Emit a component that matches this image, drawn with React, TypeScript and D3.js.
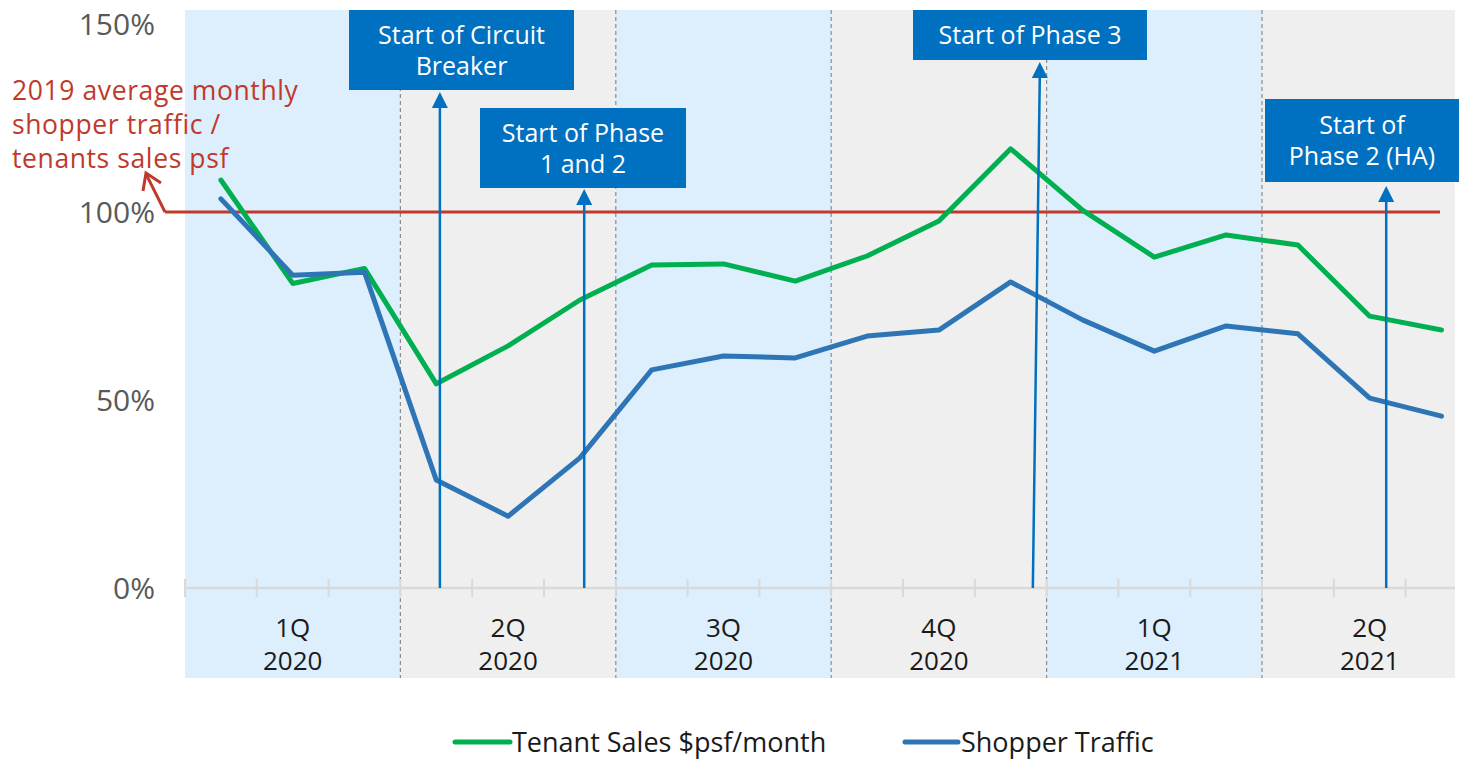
import React from "react";
import * as d3 from "d3";

// months Jan 2020 .. Jun 2021
const months = [
  "Jan-20", "Feb-20", "Mar-20", "Apr-20", "May-20", "Jun-20",
  "Jul-20", "Aug-20", "Sep-20", "Oct-20", "Nov-20", "Dec-20",
  "Jan-21", "Feb-21", "Mar-21", "Apr-21", "May-21", "Jun-21",
];
const quarters = ["1Q", "2Q", "3Q", "4Q", "1Q", "2Q"];
const quarterYears = ["2020", "2020", "2020", "2020", "2021", "2021"];

// values as % of 2019 average monthly level
const tenantSales = [108.5, 81, 85, 54.3, 64.4, 76.6, 85.9, 86.2, 81.6, 88.3, 97.6, 116.8, 100.5, 88, 93.9, 91.2, 72.3, 68.6];
const shopperTraffic = [103.5, 83.2, 84, 28.7, 19.1, 34.6, 58, 61.7, 61.2, 67, 68.6, 81.4, 71.3, 63, 69.7, 67.6, 50.5, 45.7];

const yTicks = [0, 50, 100, 150];
const baseline = 100;

// events: position in months from Jan 2020 start
const eventNames = ["Start of Circuit|Breaker", "Start of Phase|1 and 2", "Start of Phase 3", "Start of|Phase 2 (HA)"];
const eventMonths = [3.55, 5.56, 11.85, 16.73];

const W = 1459;
const H = 760;
const plotLeft = 185;
const plotRight = 1455;
const bgTop = 10;
const bgBottom = 678;
const monthW = 71.8;

const GREEN = "#00b050";
const BLUE = "#2e75b6";
const BOXBLUE = "#0070c0";
const RED = "#c0392b";
const FONT = "'Open Sans', sans-serif";

// box layout per event (x, y, w, h)
const boxes = [
  { x: 349, y: 10, w: 225, h: 80, arrowTop: 92 },
  { x: 480, y: 108, w: 206, h: 80, arrowTop: 189 },
  { x: 913, y: 10, w: 234, h: 50, arrowTop: 62 },
  { x: 1265, y: 99, w: 194, h: 83, arrowTop: 186 },
];

export default function App() {
  const x = d3.scaleLinear().domain([0, 18]).range([plotLeft, plotLeft + 18 * monthW]);
  const y = d3.scaleLinear().domain([0, 150]).range([588, 24]);

  const line = d3
    .line<number>()
    .x((_, i) => x(i + 0.5))
    .y((d) => y(d));

  const qBounds = quarters.map((_, i) => [x(i * 3), Math.min(x(i * 3 + 3), plotRight)]);

  return (
    <svg width={W} height={H} style={{ display: "block", position: "absolute", left: 0, top: 0 }}>
      {/* quarter shading */}
      {qBounds.map(([a, b], i) => (
        <rect key={"bg" + i} x={a} y={bgTop} width={b - a} height={bgBottom - bgTop} fill={i % 2 === 0 ? "#ddeefc" : "#efefef"} />
      ))}
      {qBounds.slice(1).map(([a], i) => (
        <line key={"qd" + i} x1={a} x2={a} y1={bgTop} y2={bgBottom} stroke="#8c8c8c" strokeWidth={1.2} strokeDasharray="4,3" />
      ))}

      {/* x axis */}
      <line x1={plotLeft} x2={plotRight} y1={y(0)} y2={y(0)} stroke="#d9d9d9" strokeWidth={2.5} />
      {d3.range(0, 18).map((i) => (
        <line key={"t" + i} x1={x(i)} x2={x(i)} y1={y(0) - 9} y2={y(0) + 9} stroke="#d9d9d9" strokeWidth={2} />
      ))}

      {/* y labels */}
      {yTicks.map((t) => (
        <text key={"y" + t} x={155} y={y(t)} dy="0.36em" textAnchor="end" fontFamily={FONT} fontSize={30} fill="#595959">
          {t}%
        </text>
      ))}

      {/* quarter labels */}
      {qBounds.map(([a], i) => {
        const cx = x(i * 3 + 1.5);
        return (
          <text key={"ql" + i} x={cx} textAnchor="middle" fontFamily={FONT} fontSize={26} fill="#1a1a1a">
            <tspan x={cx} y={637}>{quarters[i]}</tspan>
            <tspan x={cx} y={670}>{quarterYears[i]}</tspan>
          </text>
        );
      })}

      {/* baseline 100% */}
      <line x1={165} x2={1440} y1={y(baseline)} y2={y(baseline)} stroke={RED} strokeWidth={3} />
      <path d={`M165,${y(baseline)} L146,174`} stroke={RED} strokeWidth={3} fill="none" />
      <path d="M143,191 L146,173 L161,183" stroke={RED} strokeWidth={3} fill="none" />
      <text fontFamily={FONT} fontSize={26.5} letterSpacing={0.6} fill={RED}>
        <tspan x={12} y={100}>2019 average monthly</tspan>
        <tspan x={12} y={134}>shopper traffic /</tspan>
        <tspan x={12} y={168}>tenants sales psf</tspan>
      </text>

      {/* series */}
      <path d={line(tenantSales) ?? ""} fill="none" stroke={GREEN} strokeWidth={5} strokeLinejoin="round" strokeLinecap="round" />
      <path d={line(shopperTraffic) ?? ""} fill="none" stroke={BLUE} strokeWidth={5} strokeLinejoin="round" strokeLinecap="round" />

      {/* event annotations */}
      {eventMonths.map((m, i) => {
        const b = boxes[i];
        const ax = x(m);
        const top = i === 2 ? ax + 4 : ax;
        const bottom = i === 2 ? ax - 3 : ax;
        const lines = eventNames[i].split("|");
        const cx = b.x + b.w / 2;
        const lh = 31;
        const firstY = b.y + b.h / 2 - ((lines.length - 1) * lh) / 2;
        return (
          <g key={"ev" + i}>
            <line x1={bottom} x2={top} y1={y(0)} y2={b.arrowTop + 12} stroke={BOXBLUE} strokeWidth={2.5} />
            <path d={`M${top - 8},${b.arrowTop + 16} L${top},${b.arrowTop} L${top + 8},${b.arrowTop + 16} Z`} fill={BOXBLUE} />
            <rect x={b.x} y={b.y} width={b.w} height={b.h} fill={BOXBLUE} />
            <text textAnchor="middle" fontFamily={FONT} fontSize={25} fill="#fff">
              {lines.map((t, j) => (
                <tspan key={j} x={cx} y={firstY + j * lh} dy="0.36em">{t}</tspan>
              ))}
            </text>
          </g>
        );
      })}

      {/* legend */}
      <line x1={455} x2={510} y1={742} y2={742} stroke={GREEN} strokeWidth={5} strokeLinecap="round" />
      <text x={512} y={742} dy="0.36em" fontFamily={FONT} fontSize={27} fill="#1a1a1a">Tenant Sales $psf/month</text>
      <line x1={905} x2={958} y1={742} y2={742} stroke={BLUE} strokeWidth={5} strokeLinecap="round" />
      <text x={961} y={742} dy="0.36em" fontFamily={FONT} fontSize={27} fill="#1a1a1a">Shopper Traffic</text>
    </svg>
  );
}
